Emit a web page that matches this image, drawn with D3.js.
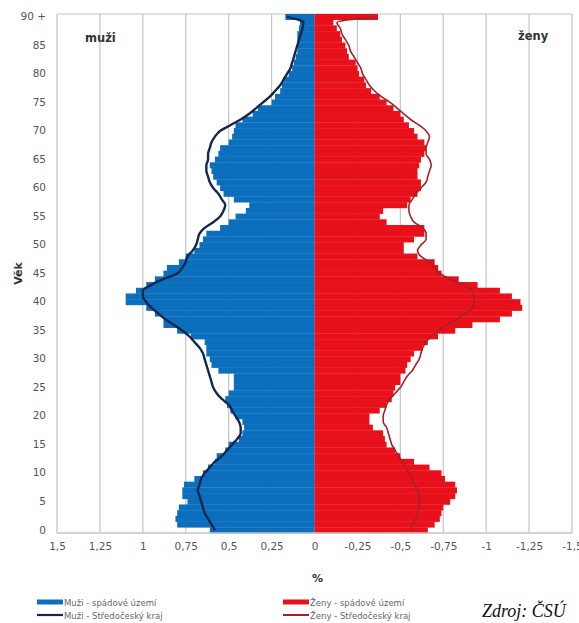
<!DOCTYPE html>
<html>
<head>
<meta charset="utf-8">
<script src="https://cdn.jsdelivr.net/npm/d3@7"></script>
<style>
  body { margin: 0; background: #fff; }
  text { font-family: "DejaVu Sans", Verdana, sans-serif; }
  text.source { font-family: "Liberation Serif", "DejaVu Serif", serif; font-style: italic; }
</style>
</head>
<body>
<div id="chart"></div>
<script>
// ages 0 .. 90 (90 = "90 +")
const ages = d3.range(0, 91);

// % of population
const menArea = [0.61, 0.80, 0.81, 0.80, 0.79, 0.74, 0.77, 0.77, 0.76, 0.70,
  0.65, 0.62, 0.58, 0.57, 0.52, 0.50, 0.44, 0.42, 0.41, 0.42,
  0.46, 0.49, 0.51, 0.52, 0.50, 0.47, 0.47, 0.47, 0.56, 0.60,
  0.61, 0.63, 0.63, 0.64, 0.72, 0.80, 0.88, 0.88, 0.93, 0.98,
  1.10, 1.10, 1.04, 0.98, 0.93, 0.88, 0.86, 0.79, 0.75, 0.70,
  0.67, 0.65, 0.63, 0.55, 0.50, 0.46, 0.40, 0.38, 0.47, 0.53,
  0.55, 0.57, 0.59, 0.60, 0.61, 0.58, 0.56, 0.55, 0.50, 0.48,
  0.47, 0.46, 0.42, 0.36, 0.33, 0.25, 0.23, 0.20, 0.19, 0.18,
  0.15, 0.13, 0.12, 0.11, 0.10, 0.10, 0.10, 0.10, 0.09, 0.085,
  0.17];

const menRegion = [0.58, 0.60, 0.62, 0.64, 0.65, 0.66, 0.67, 0.68, 0.67, 0.66,
  0.64, 0.61, 0.58, 0.54, 0.51, 0.48, 0.45, 0.43, 0.43, 0.44,
  0.46, 0.48, 0.50, 0.54, 0.57, 0.59, 0.60, 0.61, 0.62, 0.63,
  0.64, 0.65, 0.67, 0.70, 0.73, 0.77, 0.82, 0.87, 0.91, 0.95,
  0.98, 1.00, 1.00, 0.95, 0.88, 0.80, 0.77, 0.75, 0.74, 0.71,
  0.69, 0.68, 0.67, 0.64, 0.59, 0.55, 0.53, 0.52, 0.54, 0.56,
  0.59, 0.61, 0.62, 0.63, 0.63, 0.62, 0.62, 0.61, 0.60, 0.58,
  0.55, 0.49, 0.43, 0.38, 0.34, 0.30, 0.26, 0.23, 0.20, 0.18,
  0.16, 0.14, 0.13, 0.12, 0.11, 0.10, 0.09, 0.08, 0.07, 0.065,
  0.16];

const womenArea = [0.66, 0.70, 0.73, 0.74, 0.75, 0.79, 0.82, 0.83, 0.82, 0.76,
  0.74, 0.67, 0.58, 0.50, 0.47, 0.42, 0.41, 0.40, 0.34, 0.32,
  0.32, 0.38, 0.42, 0.45, 0.46, 0.47, 0.50, 0.50, 0.53, 0.54,
  0.56, 0.58, 0.63, 0.66, 0.72, 0.82, 0.92, 1.08, 1.15, 1.21,
  1.20, 1.15, 1.08, 0.95, 0.84, 0.74, 0.72, 0.70, 0.60, 0.52,
  0.52, 0.58, 0.64, 0.64, 0.42, 0.38, 0.40, 0.54, 0.56, 0.60,
  0.62, 0.62, 0.60, 0.60, 0.61, 0.62, 0.64, 0.65, 0.64, 0.60,
  0.58, 0.55, 0.52, 0.50, 0.46, 0.42, 0.38, 0.33, 0.30, 0.29,
  0.26, 0.25, 0.24, 0.20, 0.19, 0.18, 0.16, 0.15, 0.13, 0.11,
  0.37];

const womenRegion = [0.56, 0.57, 0.59, 0.60, 0.61, 0.61, 0.61, 0.60, 0.58, 0.57,
  0.55, 0.53, 0.51, 0.49, 0.47, 0.45, 0.44, 0.43, 0.42, 0.40,
  0.40, 0.41, 0.42, 0.44, 0.47, 0.50, 0.52, 0.54, 0.57, 0.59,
  0.61, 0.62, 0.63, 0.65, 0.68, 0.72, 0.77, 0.83, 0.88, 0.92,
  0.93, 0.93, 0.92, 0.86, 0.79, 0.73, 0.70, 0.67, 0.62, 0.60,
  0.62, 0.65, 0.65, 0.63, 0.58, 0.56, 0.55, 0.55, 0.57, 0.59,
  0.62, 0.65, 0.66, 0.67, 0.68, 0.67, 0.65, 0.65, 0.66, 0.67,
  0.65, 0.61, 0.56, 0.52, 0.48, 0.44, 0.39, 0.35, 0.32, 0.30,
  0.28, 0.27, 0.25, 0.23, 0.21, 0.20, 0.18, 0.16, 0.15, 0.13,
  0.35];

const xTicks = [1.5, 1.25, 1, 0.75, 0.5, 0.25, 0, -0.25, -0.5, -0.75, -1, -1.25, -1.5];
const ageTicks = d3.range(0, 91, 5);

// dimensions
const width = 579,
    height = 623,
    margin = { top: 14, right: 7, bottom: 90, left: 57 };

const blue = "#0b6fbe",
    navy = "#14284f",
    red = "#e8101a",
    darkRed = "#a3222a",
    grid = "#c4c4c4";

const svg = d3.select("#chart")
    .append("svg")
    .attr("width", width)
    .attr("height", height);

// scales
const xScale = d3.scaleLinear()
    .domain([1.5, -1.5])
    .range([margin.left, width - margin.right]);

const yScale = d3.scaleBand()
    .domain(ages)
    .range([height - margin.bottom, margin.top])
    .padding(0);

const bw = yScale.bandwidth();

// grid lines
svg.append("g")
    .selectAll("line")
    .data(xTicks)
    .enter()
    .append("line")
    .attr("x1", d => xScale(d))
    .attr("x2", d => xScale(d))
    .attr("y1", margin.top)
    .attr("y2", height - margin.bottom)
    .attr("stroke", grid)
    .attr("stroke-width", 1.2);

svg.append("line")
    .attr("x1", margin.left).attr("x2", width - margin.right)
    .attr("y1", margin.top).attr("y2", margin.top)
    .attr("stroke", grid).attr("stroke-width", 1.2);

// bars
svg.append("g")
    .selectAll("rect")
    .data(ages)
    .enter()
    .append("rect")
    .attr("x", a => xScale(menArea[a]))
    .attr("y", a => yScale(a))
    .attr("width", a => xScale(0) - xScale(menArea[a]))
    .attr("height", bw + 0.3)
    .attr("fill", blue);

svg.append("g")
    .selectAll("rect")
    .data(ages)
    .enter()
    .append("rect")
    .attr("x", xScale(0))
    .attr("y", a => yScale(a))
    .attr("width", a => xScale(-womenArea[a]) - xScale(0))
    .attr("height", bw + 0.3)
    .attr("fill", red);

// region lines
const menLine = d3.line()
    .x(a => xScale(menRegion[a]))
    .y(a => yScale(a) + bw / 2)
    .curve(d3.curveMonotoneY);

const womenLine = d3.line()
    .x(a => xScale(-womenRegion[a]))
    .y(a => yScale(a) + bw / 2)
    .curve(d3.curveMonotoneY);

svg.append("path")
    .datum(ages)
    .attr("d", menLine)
    .attr("fill", "none")
    .attr("stroke", navy)
    .attr("stroke-width", 2.4);

svg.append("path")
    .datum(ages)
    .attr("d", womenLine)
    .attr("fill", "none")
    .attr("stroke", darkRed)
    .attr("stroke-width", 1.6);

// bottom axis line
svg.append("line")
    .attr("x1", margin.left).attr("x2", width - margin.right)
    .attr("y1", height - margin.bottom).attr("y2", height - margin.bottom)
    .attr("stroke", grid).attr("stroke-width", 1.5);

// axes
const fmt = d => String(d).replace(".", ",");

const xAxis = d3.axisBottom(xScale)
    .tickValues(xTicks)
    .tickFormat(fmt)
    .tickSize(0)
    .tickPadding(10);

svg.append("g")
    .attr("transform", "translate(0," + (height - margin.bottom) + ")")
    .call(xAxis)
    .call(g => g.select(".domain").remove())
    .selectAll("text")
    .attr("font-size", 10.5)
    .attr("fill", "#555");

const yAxis = d3.axisLeft(yScale)
    .tickValues(ageTicks)
    .tickFormat(d => d === 90 ? "90 +" : d)
    .tickSize(0)
    .tickPadding(11);

svg.append("g")
    .attr("transform", "translate(" + margin.left + ",0)")
    .call(yAxis)
    .call(g => g.select(".domain").remove())
    .selectAll("text")
    .attr("font-size", 10.5)
    .attr("fill", "#555");

// titles
svg.append("text")
    .attr("transform", "translate(22," + (yScale(45) + bw / 2) + ") rotate(-90)")
    .attr("text-anchor", "middle")
    .attr("font-size", 11)
    .attr("font-weight", "bold")
    .attr("fill", "#333")
    .text("Věk");

svg.append("text")
    .attr("x", xScale(0) + 3)
    .attr("y", 582)
    .attr("text-anchor", "middle")
    .attr("font-size", 11)
    .attr("font-weight", "bold")
    .attr("fill", "#333")
    .text("%");

svg.append("text")
    .attr("x", 85)
    .attr("y", 42)
    .attr("font-size", 11.5)
    .attr("font-weight", "bold")
    .attr("fill", "#333")
    .text("muži");

svg.append("text")
    .attr("x", 518)
    .attr("y", 40)
    .attr("font-size", 11.5)
    .attr("font-weight", "bold")
    .attr("fill", "#333")
    .text("ženy");

// legend
const legendItems = [
    { label: "Muži - spádové území", color: blue, w: 5, x: 37, y: 602 },
    { label: "Muži - Středočeský kraj", color: navy, w: 2.2, x: 37, y: 615 },
    { label: "Ženy - spádové území", color: red, w: 5, x: 283, y: 602 },
    { label: "Ženy - Středočeský kraj", color: darkRed, w: 2, x: 283, y: 615 }
];

const legend = svg.append("g").attr("id", "legend");

legend.selectAll("line")
    .data(legendItems)
    .enter()
    .append("line")
    .attr("x1", d => d.x)
    .attr("x2", d => d.x + 26)
    .attr("y1", d => d.y)
    .attr("y2", d => d.y)
    .attr("stroke", d => d.color)
    .attr("stroke-width", d => d.w);

legend.selectAll("text")
    .data(legendItems)
    .enter()
    .append("text")
    .attr("x", d => d.x + 27)
    .attr("y", d => d.y + 3.5)
    .attr("font-size", 8.5)
    .attr("fill", "#666")
    .text(d => d.label);

// source
svg.append("text")
    .attr("class", "source")
    .attr("x", 482)
    .attr("y", 617)
    .attr("font-size", 18)
    .attr("fill", "#111")
    .text("Zdroj: ČSÚ");
</script>
</body>
</html>
